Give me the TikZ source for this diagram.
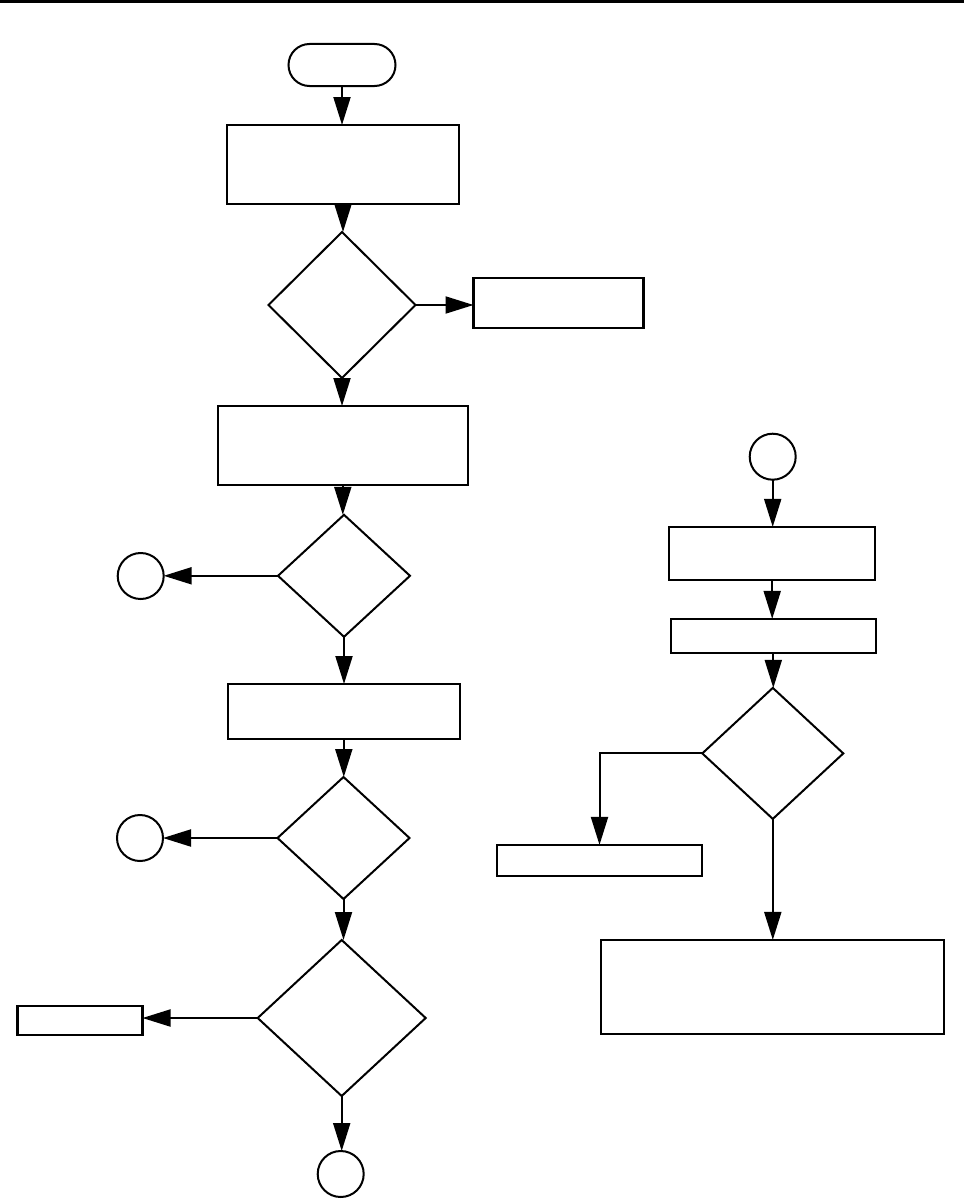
\documentclass[tikz,border=0pt]{standalone}
\usetikzlibrary{shapes.geometric,shapes.misc,arrows.meta}
\begin{document}
\begin{tikzpicture}[x=1pt,y=-1pt,
  proc/.style={draw,line width=2.2pt,inner sep=0pt,outer sep=0pt},
  term/.style={draw,line width=2pt,rounded rectangle,inner sep=0pt,outer sep=0pt,minimum width=107pt,minimum height=42pt},
  dec/.style={draw,line width=2pt,diamond,inner sep=0pt,outer sep=0pt},
  conn/.style={draw,line width=2pt,circle,inner sep=0pt,outer sep=0pt,minimum size=46pt},
  flow/.style={line width=2pt,-{Triangle[length=28pt,width=17pt]}},
  plain/.style={line width=2pt}
]
\useasboundingbox (0,0) rectangle (964,1199);
\fill (0,0) rectangle (964,2.6);

% left column
\node[term] (start) at (342,65) {};
\node[proc,minimum width=232pt,minimum height=79pt] (b1) at (343,164.5) {};
\node[dec,minimum width=147pt,minimum height=146pt] (d1) at (342,305) {};
\node[proc,minimum width=170pt,minimum height=50pt] (r1) at (558.5,302.7) {};
\node[proc,minimum width=250pt,minimum height=79pt] (b2) at (342.8,445.5) {};
\node[dec,minimum width=132pt,minimum height=122pt] (d2) at (344,575.8) {};
\node[conn] (c1) at (140.7,576) {};
\node[proc,minimum width=232pt,minimum height=55pt] (b3) at (343.8,711.5) {};
\node[dec,minimum width=132pt,minimum height=122pt] (d3) at (343.5,838) {};
\node[conn] (c2) at (140,838) {};
\node[dec,minimum width=168pt,minimum height=156pt] (d4) at (341.7,1018) {};
\node[proc,minimum width=125pt,minimum height=29pt] (bl) at (80,1020.4) {};
\node[conn] (c3) at (340.7,1174) {};

% right column
\node[conn] (cr) at (772.7,456.7) {};
\node[proc,minimum width=206pt,minimum height=53pt] (rb1) at (772.2,553.4) {};
\node[proc,minimum width=205pt,minimum height=34pt] (rb2) at (773.3,635.9) {};
\node[dec,minimum width=141pt,minimum height=131pt] (dr) at (772.8,753.4) {};
\node[proc,minimum width=205pt,minimum height=31pt] (rl) at (599.5,860.4) {};
\node[proc,minimum width=343pt,minimum height=94pt] (rbb) at (772.5,986.9) {};

% connectors
\draw[flow] (start.south) -- (start.south |- b1.north);
\draw[flow] (b1.south) -- (b1.south |- d1.north);
\draw[flow] (d1.east) -- (d1.east -| r1.west);
\draw[flow] (d1.south) -- (d1.south |- b2.north);
\draw[flow] (b2.south) -- (b2.south |- d2.north);
\draw[flow] (d2.west) -- (d2.west -| c1.east);
\draw[flow] (d2.south) -- (d2.south |- b3.north);
\draw[flow] (b3.south) -- (b3.south |- d3.north);
\draw[flow] (d3.west) -- (d3.west -| c2.east);
\draw[flow] (d3.south) -- (d3.south |- d4.north);
\draw[flow] (d4.west) -- (d4.west -| bl.east);
\draw[flow] (d4.south) -- (d4.south |- c3.north);

\draw[flow] (cr.south) -- (cr.south |- rb1.north);
\draw[flow] (rb1.south) -- (rb1.south |- rb2.north);
\draw[flow] (rb2.south) -- (rb2.south |- dr.north);
\draw[flow] (dr.west) -| (rl.north);
\draw[flow] (dr.south) -- (dr.south |- rbb.north);
\end{tikzpicture}
\end{document}
